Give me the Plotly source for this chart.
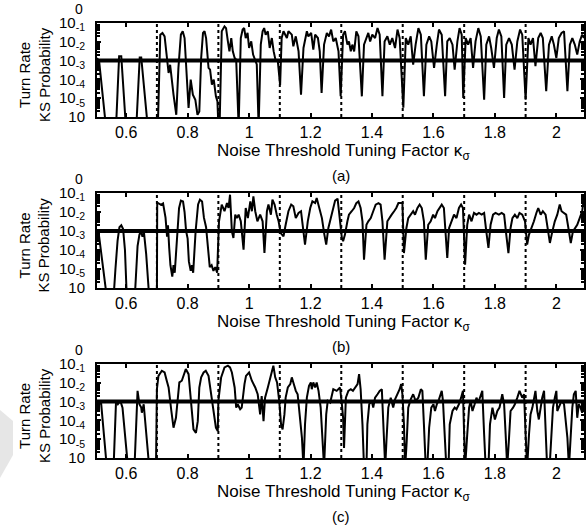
import numpy as np
import plotly.graph_objects as go

# ---------------- data (x = kappa_sigma, values given as log10 of KS probability) -------------
x_a = [0.505,0.512,0.534,0.567,0.577,0.584,0.599,0.633,0.644,0.649,0.670,0.703,0.711,0.718,0.725,0.732,0.738,0.743,0.749,0.754,0.763,0.770,0.778,0.784,0.790,0.796,0.803,0.810,0.817,0.825,0.832,0.838,0.844,0.850,0.855,0.860,0.868,0.873,0.879,0.885,0.892,0.897,0.900,
       0.904,0.911,0.920,0.925,0.931,0.936,0.942,0.947,0.953,0.958,0.966,0.973,0.979,0.984,0.989,0.995,1.000,1.007,1.013,1.020,1.025,1.031,1.038,1.044,1.049,1.054,1.061,1.067,1.074,1.080,1.087,1.093,1.101,1.106,
       1.112,1.123,1.128,1.139,1.144,1.152,1.161,1.169,1.177,1.188,1.193,1.202,1.209,1.215,1.224,1.230,1.236,1.244,1.253,1.260,1.267,1.274,1.282,1.291,
       1.298,1.306,1.312,1.320,1.325,1.331,1.336,1.342,1.349,1.356,1.360,1.367,1.374,1.382,1.388,1.394,1.401,1.410,1.418,1.425,1.434,1.441,1.450,1.458,1.466,1.475,1.483,1.490,
       1.502,1.510,1.518,1.526,1.534,1.542,1.551,1.559,1.569,1.577,1.586,1.593,1.602,1.611,1.618,1.627,1.638,1.645,1.653,1.662,1.669,1.678,1.685,1.692,
       1.697,1.705,1.713,1.721,1.729,1.737,1.746,1.754,1.765,1.772,1.781,1.788,1.797,1.806,1.813,1.821,1.830,1.837,1.846,1.855,1.864,1.873,1.882,1.889,
       1.900,1.909,1.916,1.924,1.932,1.941,1.949,1.956,1.967,1.976,1.985,1.992,2.000,2.008,2.017,2.025,2.036,2.044,2.052,2.060,2.068,2.076,2.084,2.090]
logp_a = [-1.86,-2.04,-5.5,-5.5,-1.77,-1.77,-5.5,-5.5,-1.83,-1.83,-5.5,-5.5,-0.62,-0.53,-0.71,-1.86,-2.66,-2.22,-3.28,-3.81,-4.88,-2.39,-0.62,-0.44,-0.80,-2.39,-4.52,-3.01,-3.81,-4.08,-4.88,-4.70,-1.86,-0.53,-0.44,-0.80,-2.39,-2.48,-3.28,-3.01,-3.90,-4.17,-5.5,
          -5.5,-0.44,-0.18,-0.27,-0.98,-1.51,-0.80,-1.51,-1.86,-1.95,-5.5,-0.80,-0.35,-0.27,-0.80,-0.53,-1.33,-0.98,-1.68,-2.04,-2.20,-5.5,-1.15,-0.44,-0.27,-0.62,-0.44,-1.33,-0.80,-1.51,-2.04,-1.95,-3.30,-0.80,
          -0.44,-0.80,-0.44,-0.62,-1.24,-0.71,-1.51,-3.81,-1.33,-0.44,-0.71,-0.53,-1.42,-0.62,-0.80,-1.51,-3.72,-1.15,-0.53,-0.71,-0.35,-0.98,-0.80,-1.51,
          -3.90,-0.62,-0.44,-1.15,-0.98,-1.51,-1.15,-1.51,-0.44,-0.71,-1.68,-3.90,-1.15,-0.80,-0.53,-0.98,-0.62,-0.80,-0.27,-0.62,-3.90,-0.98,-0.71,-1.15,-0.80,-1.33,-0.35,-0.80,
          -4.50,-0.80,-1.15,-0.71,-2.22,-1.15,-0.27,-0.62,-3.90,-1.15,-0.71,-0.98,-2.39,-1.15,-0.35,-0.62,-3.90,-0.98,-0.80,-1.15,-2.48,-0.98,-0.27,-0.62,
          -3.99,-0.80,-1.15,-0.80,-2.39,-0.98,-0.27,-0.71,-4.08,-1.15,-0.71,-1.33,-2.39,-0.80,-0.35,-0.71,-3.99,-1.15,-0.80,-1.15,-2.48,-0.98,-0.35,-0.62,
          -4.08,-0.80,-1.15,-0.80,-2.30,-0.80,-0.53,-0.80,-3.63,-1.15,-0.71,-1.15,-1.86,-0.80,-0.53,-0.44,-3.63,-1.15,-0.80,-1.15,-1.68,-0.98,-0.62,-0.80]

x_b = [0.505,0.512,0.537,0.559,0.565,0.572,0.578,0.584,0.590,0.596,0.602,0.628,0.637,0.643,0.648,0.653,0.658,0.665,0.675,0.700,0.701,0.707,0.713,0.720,0.728,0.733,0.736,0.740,0.744,0.750,0.754,0.758,0.764,0.772,0.778,0.785,0.790,0.795,0.800,0.804,0.810,0.814,0.818,0.826,0.834,0.840,0.847,0.853,0.860,0.866,0.872,0.878,0.884,0.890,0.896,
       0.902,0.906,0.911,0.920,0.928,0.933,0.938,0.944,0.949,0.955,0.960,0.966,0.973,0.982,0.989,0.996,1.004,1.009,1.014,1.020,1.027,1.036,1.044,1.050,1.058,1.063,1.071,1.076,1.083,1.090,1.096,
       1.103,1.112,1.119,1.128,1.137,1.144,1.152,1.161,1.169,1.177,1.182,1.191,1.199,1.206,1.215,1.220,1.228,1.237,1.245,1.251,1.258,1.269,1.280,1.288,
       1.295,1.302,1.306,1.312,1.320,1.325,1.334,1.342,1.349,1.356,1.363,1.369,1.374,1.382,1.388,1.396,1.404,1.412,1.421,1.428,1.434,1.441,1.450,1.456,1.464,1.472,1.479,1.486,1.493,1.499,
       1.504,1.512,1.518,1.526,1.534,1.540,1.548,1.555,1.562,1.569,1.575,1.583,1.591,1.599,1.605,1.613,1.620,1.627,1.634,1.640,1.645,1.651,1.659,1.667,1.675,1.683,1.690,1.696,
       1.699,1.703,1.710,1.716,1.724,1.732,1.740,1.748,1.757,1.765,1.772,1.779,1.786,1.794,1.802,1.813,1.822,1.830,1.837,1.844,1.851,1.857,1.865,1.873,1.880,1.889,1.898,
       1.905,1.911,1.920,1.927,1.935,1.941,1.949,1.956,1.965,1.974,1.979,1.987,1.995,2.003,2.011,2.017,2.025,2.032,2.041,2.047,2.054,2.060,2.068,2.076,2.084,2.090]
logp_b = [-2.0,-2.3,-5.5,-5.5,-4.0,-2.5,-1.8,-1.7,-1.9,-3.0,-5.5,-5.5,-2.8,-2.2,-2.0,-2.3,-2.1,-3.2,-5.5,-5.5,-0.5,-0.55,-0.62,-0.55,-1.3,-2.3,-1.7,-2.9,-3.8,-4.4,-3.8,-4.2,-2.5,-0.8,-0.4,-0.45,-1.0,-2.0,-2.4,-3.6,-4.1,-3.8,-4.2,-2.0,-0.6,-0.35,-0.45,-1.3,-1.8,-3.0,-3.9,-3.8,-4.1,-3.9,-4.2,
          -1.5,-1.14,-0.61,-0.96,-0.53,-0.79,-0.09,-2.02,-2.37,-1.14,-1.32,-1.14,-1.49,-2.98,-0.79,-1.32,-0.44,-0.96,-0.18,-0.96,-1.49,-1.14,-1.49,-3.16,-0.96,-0.61,-1.14,-0.35,-0.61,-1.14,-1.49,
          -2.11,-2.28,-1.67,-0.96,-0.61,-0.70,-1.32,-1.05,-0.96,-2.02,-2.72,-1.49,-0.79,-0.44,-0.53,-0.26,-0.79,-1.32,-2.19,-2.72,-1.84,-1.14,-0.40,-0.30,
          -1.49,-2.37,-2.54,-2.19,-1.49,-1.14,-0.96,-0.79,-0.53,-0.44,-0.79,-1.49,-3.51,-1.67,-1.49,-1.32,-0.96,-0.61,-0.53,-0.61,-1.49,-3.51,-1.49,-1.32,-1.14,-0.96,-0.79,-0.53,-0.53,-0.53,
          -3.16,-1.84,-1.32,-1.14,-0.96,-1.14,-0.79,-0.61,-0.79,-1.49,-3.51,-1.67,-1.49,-1.14,-1.32,-0.96,-0.79,-0.61,-0.79,-2.02,-3.42,-1.84,-1.49,-1.14,-1.32,-0.79,-0.61,-0.79,
          -2.02,-3.77,-1.67,-1.14,-1.49,-1.05,-1.14,-1.05,-1.14,-1.05,-2.02,-2.89,-1.67,-1.14,-1.05,-1.14,-1.05,-1.14,-2.19,-3.16,-1.84,-1.32,-1.14,-1.32,-1.05,-1.14,-1.49,
          -2.72,-2.19,-1.84,-1.49,-1.05,-0.79,-1.14,-0.96,-1.14,-2.28,-2.63,-2.02,-1.49,-1.14,-0.61,-0.96,-1.05,-1.14,-2.02,-2.63,-2.02,-1.84,-1.67,-1.32,-0.96,-0.26]

x_c = [0.505,0.512,0.518,0.537,0.559,0.567,0.573,0.581,0.588,0.606,0.627,0.637,0.643,0.649,0.651,0.657,0.675,0.697,0.700,0.705,0.716,0.725,0.732,0.738,0.747,0.754,0.762,0.768,0.773,0.781,0.787,0.794,0.803,0.808,0.814,0.819,0.827,0.833,0.838,0.844,0.852,0.859,0.868,0.877,0.884,0.892,0.898,
       0.900,0.909,0.920,0.931,0.938,0.944,0.953,0.958,0.963,0.971,0.976,0.985,0.990,1.000,1.009,1.020,1.028,1.036,1.041,1.047,1.052,1.061,1.069,1.076,1.079,1.085,1.091,1.098,
       1.104,1.109,1.115,1.119,1.126,1.134,1.139,1.144,1.152,1.158,1.166,1.172,1.177,1.182,1.188,1.195,1.201,1.204,1.209,1.215,1.220,1.226,1.233,1.240,1.244,1.251,1.256,1.264,1.269,1.274,1.285,1.296,
       1.302,1.306,1.309,1.315,1.323,1.331,1.338,1.345,1.353,1.358,1.363,1.369,1.374,1.382,1.385,1.391,1.399,1.404,1.410,1.418,1.425,1.432,1.436,1.443,1.447,1.453,1.461,1.469,1.475,1.483,1.490,1.495,1.499,
       1.504,1.508,1.513,1.518,1.526,1.534,1.542,1.551,1.559,1.564,1.569,1.575,1.580,1.586,1.593,1.600,1.605,1.611,1.618,1.627,1.631,1.637,1.642,1.649,1.653,1.662,1.669,1.675,1.683,1.690,1.696,
       1.699,1.703,1.710,1.716,1.721,1.727,1.734,1.740,1.746,1.754,1.759,1.765,1.770,1.779,1.784,1.792,1.800,1.808,1.815,1.824,1.830,1.835,1.840,1.846,1.851,1.859,1.865,1.873,1.880,1.889,1.895,
       1.900,1.905,1.911,1.916,1.922,1.927,1.932,1.938,1.943,1.949,1.954,1.960,1.965,1.970,1.978,1.985,1.989,1.995,2.000,2.003,2.008,2.017,2.025,2.030,2.036,2.041,2.046,2.052,2.057,2.063,2.068,2.073,2.079,2.084,2.090]
logp_c = [-1.96,-2.14,-2.0,-5.5,-5.5,-1.96,-2.14,-1.96,-2.32,-5.5,-5.5,-1.43,-2.14,-2.32,-2.59,-2.14,-5.5,-5.5,-1.34,-0.63,-0.36,-0.45,-0.89,-1.25,-2.5,-3.39,-2.86,-1.96,-0.98,-0.89,-0.54,-0.27,-0.54,-1.43,-2.68,-3.48,-3.66,-3.04,-1.25,-0.71,-0.45,-0.36,-0.63,-1.61,-2.5,-3.39,-3.57,
          -1.96,-0.71,-0.18,-0.09,-0.18,-0.45,-1.25,-2.32,-2.14,-2.41,-2.32,-1.07,-0.63,-0.45,-0.89,-1.25,-1.61,-2.68,-1.70,-3.04,-1.79,-1.25,-0.71,-0.27,-0.09,-0.71,-0.98,-1.96,
          -3.21,-3.48,-2.68,-1.79,-1.25,-1.07,-0.71,-0.98,-1.43,-1.61,-3.04,-3.93,-5.5,-3.21,-1.79,-1.16,-0.98,-1.34,-0.98,-1.25,-0.98,-1.43,-2.32,-4.11,-5.5,-2.68,-1.96,-2.05,-1.61,-1.34,-1.43,-1.25,
          -2.14,-2.86,-4.46,-1.79,-1.43,-1.34,-1.43,-1.25,-1.07,-0.54,-1.34,-3.21,-5.5,-5.5,-3.21,-2.14,-1.96,-2.32,-1.79,-1.61,-1.43,-1.34,-3.21,-5.5,-4.11,-2.32,-1.79,-2.32,-1.88,-1.61,-1.34,-1.07,-1.61,
          -3.21,-5.5,-4.11,-2.32,-1.88,-1.61,-1.96,-1.79,-1.34,-1.43,-3.21,-5.5,-5.5,-3.39,-2.32,-2.14,-2.5,-2.14,-1.88,-1.43,-1.96,-3.57,-5.5,-5.5,-3.21,-2.5,-2.32,-2.41,-2.14,-1.79,-1.43,
          -3.21,-5.5,-3.75,-2.32,-1.96,-2.5,-2.14,-1.79,-2.05,-1.61,-1.43,-3.75,-5.5,-5.5,-3.21,-2.32,-2.95,-2.5,-2.32,-1.61,-2.14,-3.75,-5.5,-3.93,-2.5,-2.32,-2.14,-1.79,-1.43,-1.79,-1.61,
          -3.75,-5.5,-3.75,-2.68,-2.32,-1.96,-1.43,-2.5,-2.95,-2.32,-1.79,-1.43,-3.39,-5.5,-5.5,-3.21,-2.32,-1.79,-1.43,-2.5,-2.32,-1.96,-2.14,-2.86,-3.93,-5.5,-3.93,-2.32,-1.61,-1.43,-2.86,-2.14,-2.32,-2.59,-2.32]

threshold = 0.01
segment_bounds = [0.7, 0.9, 1.1, 1.3, 1.5, 1.7, 1.9]
x_range = [0.505, 2.09]
x_tickvals = [0.6, 0.8, 1.0, 1.2, 1.4, 1.6, 1.8, 2.0]
x_ticktext = ["0.6", "0.8", "1", "1.2", "1.4", "1.6", "1.8", "2"]
y_tickvals = [1, 1e-1, 1e-2, 1e-3, 1e-4, 1e-5]
y_ticktext = ["10<sub>-1</sub>", "10<sub>-2</sub>", "10<sub>-3</sub>", "10<sub>-4</sub>", "10<sub>-5</sub>", "10"]
panel_labels = ["(a)", "(b)", "(c)"]
x_title = "Noise Threshold Tuning Factor κ<sub>σ</sub>"
y_title = "Turn Rate<br>KS Probability"

series = [(x_a, logp_a), (x_b, logp_b), (x_c, logp_c)]

# ---------------- layout geometry (pixels in a 586 x 531 canvas) ----------------
W, H = 586, 531
FONT = "Liberation Sans, Arial, Helvetica, sans-serif"
panel_tops = [23, 193, 364]
panel_bots = [117, 288, 458]
left_px, right_px = 97, 584

def px(xp):
    return xp / W

def py(yp):
    return 1 - yp / H

def note(x, y, text, size, angle=0):
    fig.add_annotation(xref="paper", yref="paper", x=px(x), y=py(y), text=text, showarrow=False,
                       xanchor="center", yanchor="middle", textangle=angle,
                       font=dict(family=FONT, size=size, color="black"))

fig = go.Figure()
for i, (xs, lp) in enumerate(series):
    n = "" if i == 0 else str(i + 1)
    fig.add_trace(go.Scatter(x=xs, y=np.power(10.0, np.array(lp)), mode="lines",
                             line=dict(color="black", width=2), xaxis="x" + n, yaxis="y" + n,
                             showlegend=False, hoverinfo="skip"))
    fig.add_trace(go.Scatter(x=x_range, y=[threshold, threshold], mode="lines",
                             line=dict(color="black", width=4), xaxis="x" + n, yaxis="y" + n,
                             showlegend=False, hoverinfo="skip"))
    for b in segment_bounds:
        fig.add_shape(type="line", xref="x" + n, yref="y" + n + " domain", x0=b, x1=b, y0=0, y1=1,
                      line=dict(color="black", width=2, dash="dot"))

    xa = dict(domain=[px(left_px), px(right_px)], range=x_range, tickvals=x_tickvals, ticktext=x_ticktext,
              ticks="inside", ticklen=4, tickwidth=1.5, tickcolor="black", showline=True, linewidth=2,
              linecolor="black", mirror="ticks", showgrid=False, zeroline=False, automargin=False,
              tickfont=dict(family=FONT, size=16, color="black"), anchor="y" + n, ticklabelstandoff=0)
    ya = dict(domain=[py(panel_bots[i]), py(panel_tops[i])], type="log", range=[-5, 0],
              tickvals=y_tickvals, ticktext=y_ticktext, ticks="inside", ticklen=4, tickwidth=1.5,
              tickcolor="black", showline=True, linewidth=2, linecolor="black", mirror="ticks",
              showgrid=False, zeroline=False, tickfont=dict(family=FONT, size=15, color="black"),
              anchor="x" + n, ticklabelstandoff=7, automargin=False,
              minor=dict(ticks="inside", ticklen=3, tickcolor="black", dtick="D1", showgrid=False))
    fig.layout["xaxis" + n] = xa
    fig.layout["yaxis" + n] = ya

    top, bot = panel_tops[i], panel_bots[i]
    note(79, top - 14, "0", 14)
    note(343, bot + 35, x_title, 17)
    note(341, bot + 58, panel_labels[i], 15)
    note(34, (top + bot) / 2 + 5, y_title, 15, angle=-90)

# faint watermark shape at the left edge
fig.add_shape(type="path", xref="paper", yref="paper", layer="below",
              path=f"M 0 {py(410)} L {px(13)} {py(421)} L {px(13)} {py(455)} L 0 {py(478)} Z",
              fillcolor="#e6e6e6", line=dict(width=0))

fig.update_layout(template="none", width=W, height=H, margin=dict(l=0, r=0, t=0, b=0, pad=0),
                  paper_bgcolor="white", plot_bgcolor="white", showlegend=False)
fig.write_html("out.html", config={"displayModeBar": False},
               post_script="document.body.style.margin='0';document.body.style.overflow='hidden';")
